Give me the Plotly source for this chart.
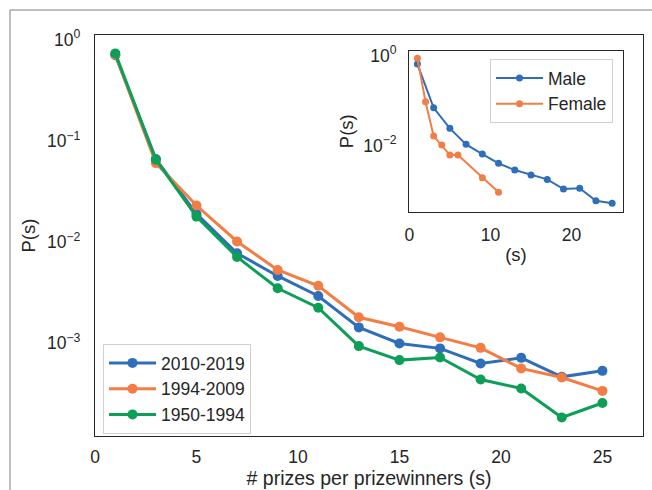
import plotly.graph_objects as go

# ---- data ----
s_main = [1, 3, 5, 7, 9, 11, 13, 15, 17, 19, 21, 23, 25]
p_2010_2019 = [0.70, 0.0659, 0.0189, 0.00773, 0.00461, 0.00292, 0.00143, 0.000993, 0.000887, 0.000629, 0.000715, 0.000464, 0.000532]
p_1994_2009 = [0.71, 0.0601, 0.0229, 0.0101, 0.00528, 0.00369, 0.00180, 0.00145, 0.00114, 0.000898, 0.000562, 0.000457, 0.000337]
p_1950_1994 = [0.73, 0.0650, 0.0178, 0.0071, 0.00348, 0.00224, 0.000934, 0.000679, 0.000722, 0.000437, 0.000356, 0.000184, 0.000256]

s_male = [1, 3, 5, 7, 9, 11, 13, 15, 17, 19, 21, 23, 25]
p_male = [0.647, 0.069, 0.0241, 0.01063, 0.00648, 0.00402, 0.00285, 0.00221, 0.00177, 0.00108, 0.00112, 0.000594, 0.00052]
s_female = [1, 2, 3, 4, 5, 6, 9, 11]
p_female = [0.867, 0.094, 0.01626, 0.01026, 0.00615, 0.00615, 0.00193, 0.000912]

main_xticks = [0, 5, 10, 15, 20, 25]
main_yticks = [1, 0.1, 0.01, 0.001]
main_yticktext = ["10<sup>0</sup>", "10<sup>\u22121</sup>", "10<sup>\u22122</sup>", "10<sup>\u22123</sup>"]
inset_xticks = [0, 10, 20]
inset_yticks = [1, 0.01]
inset_yticktext = ["10<sup>0</sup>", "10<sup>\u22122</sup>"]

BLUE = "#2F6EB8"
ORANGE = "#F27E45"
GREEN = "#0D9F57"
TEXT = "#262626"
SPINE = "#262626"
FONT = "Liberation Sans, Arial, sans-serif"

W, H = 652, 490

def px_x(p):
    return p / W

def px_y(p):
    return 1 - p / H

fig = go.Figure()

for name, ys, col in [("2010-2019", p_2010_2019, BLUE),
                      ("1994-2009", p_1994_2009, ORANGE),
                      ("1950-1994", p_1950_1994, GREEN)]:
    fig.add_trace(go.Scatter(x=s_main, y=ys, name=name, mode="lines+markers",
                             line=dict(color=col, width=3),
                             marker=dict(color=col, size=10),
                             xaxis="x", yaxis="y", legend="legend"))

for name, xs, ys, col in [("Male", s_male, p_male, BLUE),
                          ("Female", s_female, p_female, ORANGE)]:
    fig.add_trace(go.Scatter(x=xs, y=ys, name=name, mode="lines+markers",
                             line=dict(color=col, width=2),
                             marker=dict(color=col, size=7),
                             xaxis="x2", yaxis="y2", legend="legend2"))

axis_common = dict(showline=True, mirror=True, linecolor=SPINE, linewidth=1.3,
                   showgrid=False, zeroline=False, ticks="", automargin=False,
                   tickfont=dict(family=FONT, size=17.5, color=TEXT))

fig.update_layout(
    width=W, height=H,
    margin=dict(l=0, r=0, t=0, b=0),
    paper_bgcolor="white", plot_bgcolor="white",
    font=dict(family=FONT, size=17.5, color=TEXT),
    xaxis=dict(domain=[px_x(95), px_x(643)], range=[0, 27],
               tickvals=main_xticks, ticklabelstandoff=5,
               title=dict(text="# prizes per prizewinners (s)", standoff=3,
                          font=dict(family=FONT, size=19.5, color=TEXT)),
               anchor="y", **axis_common),
    yaxis=dict(domain=[px_y(436), px_y(35)], type="log", range=[-3.918, 0.045],
               tickvals=main_yticks, ticktext=main_yticktext, ticklabelstandoff=10,
               title=dict(text="P(s)", standoff=6,
                          font=dict(family=FONT, size=18.5, color=TEXT)),
               anchor="x", **axis_common),
    xaxis2=dict(domain=[px_x(409.3), px_x(622.7)], range=[0, 26.3],
                tickvals=inset_xticks, ticklabelstandoff=7,
                title=dict(text="(s)", standoff=4,
                           font=dict(family=FONT, size=18.5, color=TEXT)),
                anchor="y2", **axis_common),
    yaxis2=dict(domain=[px_y(211.7), px_y(50.7)], type="log", range=[-3.47, 0.107],
                tickvals=inset_yticks, ticktext=inset_yticktext, ticklabelstandoff=8,
                title=dict(text="P(s)", standoff=4,
                           font=dict(family=FONT, size=18.5, color=TEXT)),
                anchor="x2", **axis_common),
    legend=dict(x=px_x(103), y=px_y(344), xanchor="left", yanchor="top",
                bgcolor="white", bordercolor="#D0D0D0", borderwidth=1,
                font=dict(family=FONT, size=17.5, color=TEXT),
                tracegroupgap=0, itemwidth=47),
    legend2=dict(x=px_x(613), y=px_y(59), xanchor="right", yanchor="top",
                 bgcolor="white", bordercolor="#D0D0D0", borderwidth=1,
                 font=dict(family=FONT, size=17.5, color=TEXT),
                 tracegroupgap=0, itemwidth=47),
    shapes=[
        dict(type="line", xref="paper", yref="paper",
             x0=px_x(10), x1=1.0, y0=px_y(10), y1=px_y(10),
             line=dict(color="#7F7F7F", width=1)),
        dict(type="line", xref="paper", yref="paper",
             x0=px_x(10), x1=px_x(10), y0=px_y(10), y1=0.0,
             line=dict(color="#7F7F7F", width=1)),
    ],
)

fig.write_html("out.html", config={"displayModeBar": False},
               post_script="document.body.style.margin='0';document.body.style.overflow='hidden';")
